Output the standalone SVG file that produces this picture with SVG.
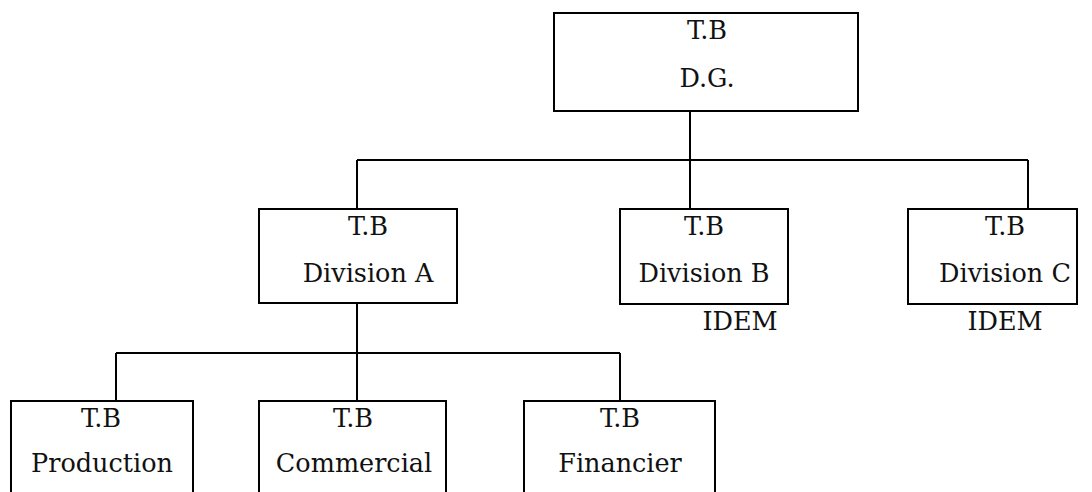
<svg xmlns="http://www.w3.org/2000/svg" width="1092" height="492" viewBox="0 0 1092 492">
<style>
.box{fill:#fff;stroke:#000;stroke-width:2}
.ln{fill:none;stroke:#000;stroke-width:2}
text{font-family:"DejaVu Serif","Liberation Serif",serif;font-size:25.5px;fill:#111;text-anchor:middle}
</style>
<rect width="1092" height="492" fill="#fff"/>
<g id="connectors">
<path class="ln" d="M690 111V160M357 160H1028M357 160V209M690 160V209M1028 160V209"/>
<path class="ln" d="M357 303V353M116 353H620M116 353V401M357 353V401M620 353V401"/>
</g>
<g id="dg"><rect class="box" x="554" y="13" width="304" height="98"/><text x="707" y="39">T.B</text><text x="707" y="87">D.G.</text></g>
<g id="divA"><rect class="box" x="259" y="209" width="198" height="94"/><text x="368" y="235">T.B</text><text x="368" y="282">Division A</text></g>
<g id="divB"><rect class="box" x="620" y="209" width="168" height="95"/><text x="704" y="235">T.B</text><text x="704" y="282">Division B</text><text x="740" y="330">IDEM</text></g>
<g id="divC"><rect class="box" x="908" y="209" width="169" height="95"/><text x="1005" y="235">T.B</text><text x="1005" y="282">Division C</text><text x="1005" y="330">IDEM</text></g>
<g id="production"><rect class="box" x="11" y="401" width="182" height="100"/><text x="101" y="427">T.B</text><text x="102" y="472">Production</text></g>
<g id="commercial"><rect class="box" x="259" y="401" width="187" height="100"/><text x="353" y="427">T.B</text><text x="354" y="472">Commercial</text></g>
<g id="financier"><rect class="box" x="524" y="401" width="191" height="100"/><text x="620" y="427">T.B</text><text x="620" y="472">Financier</text></g>
</svg>
